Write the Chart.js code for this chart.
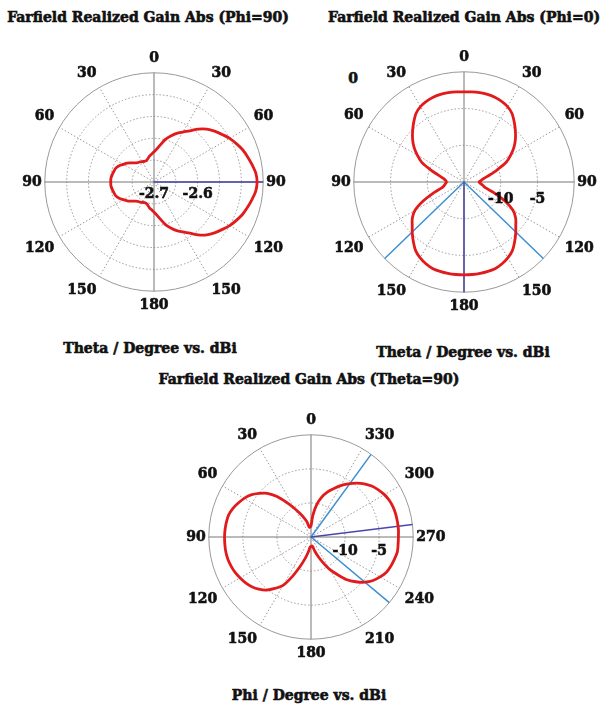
<!DOCTYPE html>
<html>
<head>
<meta charset="utf-8">
<script src="https://cdn.jsdelivr.net/npm/chart.js@4.4.1/dist/chart.umd.min.js"></script>
<style>
  body { margin: 0; width: 607px; height: 707px; background: #fff; position: relative; overflow: hidden; }
  .txt { position: absolute; transform: translate(-50%, -50%); white-space: nowrap;
         font-family: "DejaVu Serif", serif; font-weight: bold; color: #111;
         -webkit-text-stroke: 0.6px #111; font-size: 14px; }
  canvas { position: absolute; }
</style>
</head>
<body>

<div class="txt" style="left:148px; top:17px">Farfield Realized Gain Abs (Phi=90)</div>
<div class="txt" style="left:464px; top:17px">Farfield Realized Gain Abs (Phi=0)</div>
<div class="txt" style="left:150px; top:348px">Theta / Degree vs. dBi</div>
<div class="txt" style="left:463px; top:352px">Theta / Degree vs. dBi</div>
<div class="txt" style="left:309px; top:379px">Farfield Realized Gain Abs (Theta=90)</div>
<div class="txt" style="left:309px; top:695px">Phi / Degree vs. dBi</div>
<div class="txt" style="left:353px; top:78px">0</div>

<canvas id="chartPhi90" width="320" height="264" style="left:-6px; top:51px"></canvas>
<canvas id="chartPhi0" width="320" height="266" style="left:304px; top:50px"></canvas>
<canvas id="chartTheta90" width="320" height="250" style="left:151px; top:413px"></canvas>

<script>
// Farfield cuts, sampled every 5 degrees going clockwise from the top of each plot

// Theta labels for the two theta cuts (right half 0..180, left half back down to 5)
const thetaLabels = [0,5,10,15,20,25,30,35,40,45,50,55,60,65,70,75,80,85,90,95,100,105,110,115,120,125,130,135,140,145,150,155,160,165,170,175,
                     180,175,170,165,160,155,150,145,140,135,130,125,120,115,110,105,100,95,90,85,80,75,70,65,60,55,50,45,40,35,30,25,20,15,10,5];

// Phi labels for the theta=90 cut (phi runs counter clockwise)
const phiLabels = [0,355,350,345,340,335,330,325,320,315,310,305,300,295,290,285,280,275,270,265,260,255,250,245,240,235,230,225,220,215,210,205,200,195,190,185,
                   180,175,170,165,160,155,150,145,140,135,130,125,120,115,110,105,100,95,90,85,80,75,70,65,60,55,50,45,40,35,30,25,20,15,10,5];

// Realized gain (dBi), Phi = 90
const gainPhi90 = [-2.631,-2.624,-2.613,-2.599,-2.588,-2.577,-2.568,-2.557,-2.542,-2.529,-2.519,-2.510,-2.500,-2.492,-2.484,-2.478,-2.472,-2.466,
                   -2.464,-2.466,-2.472,-2.478,-2.484,-2.492,-2.500,-2.510,-2.519,-2.529,-2.542,-2.557,-2.568,-2.577,-2.588,-2.599,-2.613,-2.624,
                   -2.631,-2.636,-2.640,-2.645,-2.648,-2.648,-2.646,-2.644,-2.642,-2.638,-2.632,-2.625,-2.619,-2.612,-2.607,-2.605,-2.603,-2.601,
                   -2.601,-2.601,-2.603,-2.605,-2.607,-2.612,-2.619,-2.625,-2.632,-2.638,-2.642,-2.644,-2.646,-2.648,-2.648,-2.645,-2.640,-2.636];

// Realized gain (dBi), Phi = 0
const gainPhi0 = [-2.73,-2.69,-2.66,-2.66,-2.73,-2.89,-3.14,-3.61,-4.36,-5.11,-5.86,-6.68,-7.64,-8.66,-10.23,-11.45,-12.27,-12.68,
                  -12.95,-12.75,-12.41,-12.00,-10.64,-8.86,-7.30,-6.41,-5.80,-5.05,-4.30,-3.55,-3.07,-2.73,-2.48,-2.41,-2.37,-2.36,
                  -2.36,-2.36,-2.37,-2.41,-2.48,-2.73,-3.07,-3.55,-4.30,-5.05,-5.80,-6.41,-7.30,-8.86,-10.50,-11.86,-12.27,-12.48,
                  -12.61,-12.48,-12.14,-11.39,-10.16,-8.66,-7.64,-6.68,-5.86,-5.11,-4.36,-3.61,-3.14,-2.89,-2.73,-2.66,-2.66,-2.69];

// Realized gain (dBi), Theta = 90 (same order as phiLabels)
const gainTheta90 = [-13.39,-11.78,-10.17,-8.93,-7.98,-7.19,-6.29,-5.49,-4.68,-3.95,-3.37,-2.93,-2.56,-2.30,-2.17,-2.12,-2.12,-2.12,
                     -2.17,-2.17,-2.14,-2.34,-2.52,-2.78,-3.29,-3.88,-4.68,-5.71,-6.80,-8.27,-9.51,-10.90,-12.00,-12.88,-13.54,-13.68,
                     -13.61,-13.54,-12.80,-11.78,-10.46,-8.71,-6.80,-5.78,-4.83,-4.17,-3.66,-3.29,-3.00,-2.71,-2.52,-2.37,-2.31,-2.31,
                     -2.31,-2.34,-2.39,-2.49,-2.78,-3.22,-3.66,-4.24,-5.05,-5.93,-7.24,-8.85,-10.17,-11.20,-12.00,-12.66,-13.54,-13.54];

// Main lobe direction and beam edges (degrees, clockwise from the top mark)
const mainLobePhi90 = [90];
const mainLobePhi0 = [180];
const beamEdgesPhi0 = [134, 226];
// Theta = 90 cut, given as phi
const mainLobeTheta90 = [277];
const beamEdgesTheta90 = [324, 230];

// Radial tick labels shown under the 90 axis
const ticksPhi90 = [-2.7, -2.6];
const ticksPhi0 = [-10, -5];
const ticksTheta90 = [-10, -5];

const labelFont = { family: 'DejaVu Serif', weight: 'bold', size: 14 };
const FONT_CSS = 'bold 14px "DejaVu Serif"';

// lines from the centre out to the rim
const beamLines = {
    id: 'beamLines',
    beforeDatasetsDraw(chart, args, opts) {
        const scale = chart.scales.r;
        const ctx = chart.ctx;
        const step = 360 / chart.data.labels.length;
        (opts.lines || []).forEach(line => {
            line.angles.forEach(a => {
                const cw = opts.ccw ? (360 - a) % 360 : a;
                const end = scale.getPointPositionForValue(cw / step, scale.max);
                ctx.save();
                ctx.strokeStyle = line.color;
                ctx.lineWidth = 1.5;
                ctx.beginPath();
                ctx.moveTo(scale.xCenter, scale.yCenter);
                ctx.lineTo(end.x, end.y);
                ctx.stroke();
                ctx.restore();
            });
        });
    }
};

// value labels along the horizontal axis + heavier outline on the angle labels
const radialTicks = {
    id: 'radialTicks',
    afterDraw(chart, args, opts) {
        const scale = chart.scales.r;
        const ctx = chart.ctx;
        ctx.save();
        ctx.font = FONT_CSS;
        ctx.fillStyle = '#111';
        ctx.strokeStyle = '#111';
        ctx.lineWidth = 0.6;
        ctx.textAlign = 'center';
        ctx.textBaseline = 'middle';
        (opts.values || []).forEach(v => {
            const d = scale.getDistanceFromCenterForValue(v);
            const x = scale.xCenter + d, y = scale.yCenter + opts.offset;
            ctx.fillText(String(v), x, y);
            ctx.strokeText(String(v), x, y);
        });
        chart.data.labels.forEach((label, i) => {
            if (i % 6 !== 0) return;
            const p = scale.getPointLabelPosition(i);
            ctx.strokeText(String(label), (p.left + p.right) / 2, (p.top + p.bottom) / 2);
        });
        ctx.restore();
    }
};

function makePolar(id, labels, values, rMin, rMax, step, lines, ticks, tickOffset, ccw) {
    const ctx = document.getElementById(id).getContext('2d');
    return new Chart(ctx, {
        type: 'radar',
        data: {
            labels: labels,
            datasets: [{
                data: values,
                borderColor: '#e11b1b',
                borderWidth: 2.8,
                backgroundColor: 'rgba(0,0,0,0)',
                fill: false,
                pointRadius: 0,
                tension: 0.3
            }]
        },
        plugins: [beamLines, radialTicks],
        options: {
            responsive: false,
            animation: false,
            plugins: {
                legend: { display: false },
                tooltip: { enabled: false },
                beamLines: { lines: lines, ccw: ccw },
                radialTicks: { values: ticks, offset: tickOffset }
            },
            scales: {
                r: {
                    min: rMin,
                    max: rMax,
                    ticks: { display: false, stepSize: step },
                    grid: { circular: true, color: '#999', lineWidth: 1 },
                    border: {
                        dash: c => (c.index === c.scale.ticks.length - 1 ? [] : [1.5, 2])
                    },
                    angleLines: {
                        display: true,
                        color: c => (c.index % 6 === 0 ? (c.index % 18 === 0 ? '#777' : '#999') : 'rgba(0,0,0,0)'),
                        lineWidth: c => (c.index % 6 === 0 ? 1 : 0),
                        borderDash: c => (c.index % 18 === 0 ? [] : [1.5, 2])
                    },
                    pointLabels: {
                        font: labelFont,
                        color: '#111',
                        padding: c => (c.index % 36 === 18 ? 3 : 6),
                        callback: (label, index) => (index % 6 === 0 ? String(label) : '')
                    }
                }
            }
        }
    });
}

makePolar('chartPhi90', thetaLabels, gainPhi90, -2.7, -2.45, 0.05,
    [{ angles: mainLobePhi90, color: '#4a46ad' }], ticksPhi90, 12, false);

makePolar('chartPhi0', thetaLabels, gainPhi0, -15, 0, 5,
    [{ angles: beamEdgesPhi0, color: '#3d8fd1' }, { angles: mainLobePhi0, color: '#4a46ad' }], ticksPhi0, 17, false);

makePolar('chartTheta90', phiLabels, gainTheta90, -15, 0, 5,
    [{ angles: beamEdgesTheta90, color: '#3d8fd1' }, { angles: mainLobeTheta90, color: '#4a46ad' }], ticksTheta90, 14, true);
</script>
</body>
</html>
